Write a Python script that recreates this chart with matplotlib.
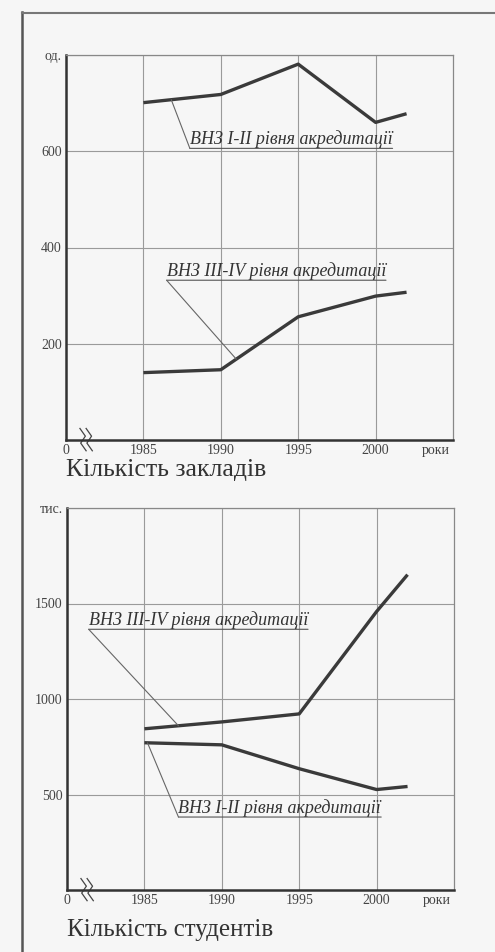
import numpy as np
import matplotlib
matplotlib.use("Agg")
import matplotlib.pyplot as plt
from matplotlib.lines import Line2D

plt.rcParams['font.family'] = ['Liberation Serif', 'DejaVu Serif']

# ---- data ----
years = [1985, 1990, 1995, 2000, 2002]
inst_12 = [701, 718, 781, 660, 678]      # ВНЗ I-II рівня акредитації (од.)
inst_34 = [140, 146, 256, 299, 307]      # ВНЗ III-IV рівня акредитації (од.)
stud_34 = [844, 880, 922, 1458, 1651]    # ВНЗ III-IV (тис.)
stud_12 = [771, 760, 635, 526, 542]      # ВНЗ I-II (тис.)

xticks = [1980, 1985, 1990, 1995, 2000]
xticklabels = ['0', '1985', '1990', '1995', '2000']
top_yticks = [200, 400, 600, 800]
top_yticklabels = ['200', '400', '600', 'од.']
bot_yticks = [500, 1000, 1500, 2000]
bot_yticklabels = ['500', '1000', '1500', 'тис.']

BG = '#f6f6f6'
LINE = '#3a3a3a'
GRID = '#9a9a9a'

fig = plt.figure(figsize=(4.95, 9.52), dpi=100, facecolor=BG)

# scan frame
fig.add_artist(Line2D([22/495, 22/495], [0, 1 - 12/952], color='#555555', lw=1.8))
fig.add_artist(Line2D([22/495, 1], [1 - 13/952, 1 - 13/952], color='#777777', lw=1.5))


def make_axes(rect, ylim, yticks, yticklabels):
    ax = fig.add_axes(rect, facecolor=BG)
    ax.set_xlim(1980, 2005)
    ax.set_ylim(*ylim)
    ax.set_xticks(xticks)
    ax.set_xticklabels(xticklabels, fontsize=10, color='#444444')
    ax.set_yticks(yticks)
    ax.set_yticklabels(yticklabels, fontsize=10, color='#444444')
    ax.tick_params(length=0, pad=3)
    ax.grid(True, color=GRID, lw=0.8)
    ax.set_axisbelow(True)
    for s in ['left', 'bottom']:
        ax.spines[s].set_linewidth(1.8)
        ax.spines[s].set_color('#333333')
    for s in ['top', 'right']:
        ax.spines[s].set_linewidth(0.9)
        ax.spines[s].set_color('#888888')
    ax.text(2003.9, -0.011, 'роки', transform=ax.get_xaxis_transform(),
            ha='center', va='top', fontsize=10, color='#444444')
    # axis break mark
    tb = ax.get_xaxis_transform()
    for dx in (0, 0.4):
        ax.plot([1980.9 + dx, 1981.25 + dx, 1980.95 + dx, 1981.3 + dx],
                [0.03, 0.01, -0.008, -0.028], transform=tb,
                color='#444444', lw=0.9, clip_on=False)
    return ax


def label(ax, x, y, s, xs, series):
    t = ax.text(x, y, s, fontsize=13, style='italic', color='#333333',
                ha='left', va='bottom')
    ax.annotate('', xy=(0, 0), xycoords=t, xytext=(1, 0), textcoords=t,
                arrowprops=dict(arrowstyle='-', color='#555555', lw=0.8,
                                shrinkA=0, shrinkB=0))
    ax.annotate('', xy=(xs, np.interp(xs, years, series)), xycoords='data',
                xytext=(0, 0), textcoords=t,
                arrowprops=dict(arrowstyle='-', color='#666666', lw=0.8,
                                shrinkA=0, shrinkB=0))


# ---- top chart ----
ax1 = make_axes([66/495, 1 - 440/952, 387/495, 385/952], (0, 800),
                top_yticks, top_yticklabels)
ax1.plot(years, inst_12, color=LINE, lw=2.4, solid_capstyle='butt')
ax1.plot(years, inst_34, color=LINE, lw=2.4, solid_capstyle='butt')
label(ax1, 1988.0, 606, 'ВНЗ I-II рівня акредитації', 1986.8, inst_12)
label(ax1, 1986.5, 332, 'ВНЗ III-IV рівня акредитації', 1991.0, inst_34)
fig.text(66/495, 1 - 470/952, 'Кількість закладів', fontsize=18.5,
         color='#333333', ha='left', va='center')

# ---- bottom chart ----
ax2 = make_axes([67/495, 1 - 890/952, 387/495, 382/952], (0, 2000),
                bot_yticks, bot_yticklabels)
ax2.plot(years, stud_34, color=LINE, lw=2.4, solid_capstyle='butt')
ax2.plot(years, stud_12, color=LINE, lw=2.4, solid_capstyle='butt')
label(ax2, 1981.4, 1365, 'ВНЗ III-IV рівня акредитації', 1987.2, stud_34)
label(ax2, 1987.2, 382, 'ВНЗ I-II рівня акредитації', 1985.2, stud_12)
fig.text(67/495, 1 - 930/952, 'Кількість студентів', fontsize=18,
         color='#333333', ha='left', va='center')

fig.savefig('out.png', dpi=100, facecolor=BG)
